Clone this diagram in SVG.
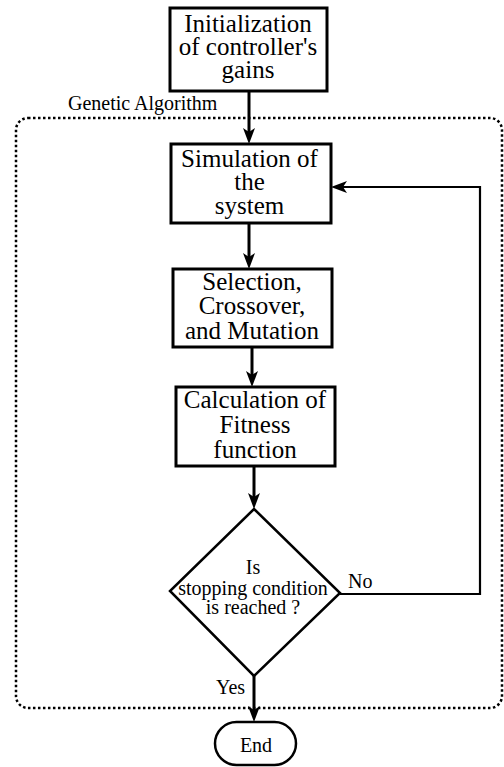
<svg xmlns="http://www.w3.org/2000/svg" width="504" height="767" viewBox="0 0 504 767">
<style>
.box{fill:#fff;stroke:#000;stroke-width:3}
.shape{fill:#fff;stroke:#000;stroke-width:2.5}
.t{font-size:25px;text-anchor:middle;fill:#000}
.s{font-size:20px;fill:#000}
.c{fill:none;stroke:#000;stroke-width:3}
.thin{fill:none;stroke:#000;stroke-width:2.2}
.group{fill:none;stroke:#000;stroke-width:2.5;stroke-dasharray:2.5 2.5}
</style>
<defs>
<marker id="arr" markerUnits="userSpaceOnUse" markerWidth="16" markerHeight="12" viewBox="0 0 16 12" refX="6" refY="6" orient="auto">
<path d="M0,0 L16,6 L0,12 L4,6 z" fill="#000"/>
</marker>
</defs>
<g font-family="Liberation Serif, 'Times New Roman', serif">
<g id="ga-group">
<rect class="group" x="16" y="118" width="486" height="590" rx="12"/>
<text class="s" x="68" y="110" font-size="19.5">Genetic Algorithm</text>
</g>
<g id="connectors">
<path class="c" d="M249,91 V134" marker-end="url(#arr)"/>
<path class="c" d="M249,223 V259" marker-end="url(#arr)"/>
<path class="c" d="M252,347 V377" marker-end="url(#arr)"/>
<path class="c" d="M254,466 V499" marker-end="url(#arr)"/>
<path class="c" d="M254,676 V712" marker-end="url(#arr)"/>
<path class="thin" d="M340,594 H480 V187 H341" marker-end="url(#arr)"/>
<text class="s" x="348" y="588">No</text>
<text class="s" x="216" y="694">Yes</text>
</g>
<g id="init">
<rect class="box" x="170" y="8" width="157" height="83"/>
<text class="t"><tspan x="248" y="32">Initialization</tspan><tspan x="248" y="55">of controller's</tspan><tspan x="248" y="77.5">gains</tspan></text>
</g>
<g id="simulation">
<rect class="box" x="171" y="144" width="160" height="79"/>
<text class="t"><tspan x="249.5" y="167">Simulation of</tspan><tspan x="249.5" y="190">the</tspan><tspan x="249.5" y="214">system</tspan></text>
</g>
<g id="selection">
<rect class="box" x="173" y="269" width="159" height="78"/>
<text class="t"><tspan x="252" y="290">Selection,</tspan><tspan x="252" y="314">Crossover,</tspan><tspan x="252" y="339">and Mutation</tspan></text>
</g>
<g id="fitness">
<rect class="box" x="176" y="387" width="159" height="79"/>
<text class="t"><tspan x="255" y="408">Calculation of</tspan><tspan x="255" y="433">Fitness</tspan><tspan x="255" y="458">function</tspan></text>
</g>
<g id="decision">
<polygon class="shape" points="254,509 340,593 254,676 170,591"/>
<text class="s" text-anchor="middle"><tspan x="253" y="574">Is</tspan><tspan x="253" y="595">stopping condition</tspan><tspan x="253" y="614">is reached ?</tspan></text>
</g>
<g id="end">
<rect class="shape" x="215" y="722" width="81" height="43" rx="21.5"/>
<text class="s" x="256" y="752" text-anchor="middle">End</text>
</g>
</g>
</svg>
